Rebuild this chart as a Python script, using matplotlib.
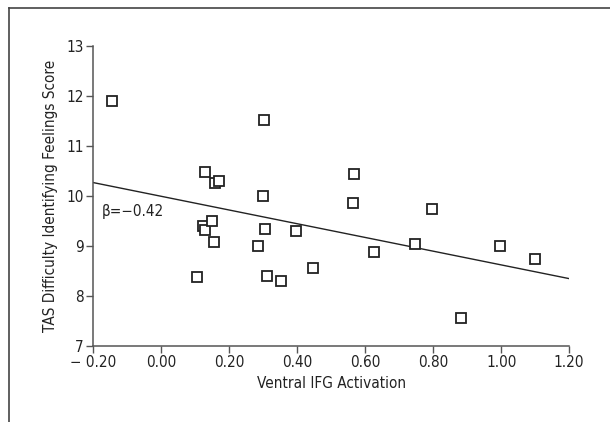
import numpy as np
import matplotlib
matplotlib.use('Agg')
import matplotlib.pyplot as plt
from matplotlib.lines import Line2D
from matplotlib import font_manager

# prefer a narrow sans, like the journal's condensed Helvetica
fonts = {(f.name, f.stretch) for f in font_manager.fontManager.ttflist}
names = {n for n, s in fonts}
font_note = 'plain'
if 'Liberation Sans Narrow' in names:
    plt.rcParams['font.family'] = ['Liberation Sans Narrow', 'DejaVu Sans']
    font_note = 'narrow'
elif ('DejaVu Sans', 'condensed') in fonts or ('DejaVu Sans', 'semi-condensed') in fonts:
    plt.rcParams['font.family'] = ['DejaVu Sans']
    plt.rcParams['font.stretch'] = 'condensed'
    font_note = 'dejavu-cond'
else:
    plt.rcParams['font.family'] = ['DejaVu Sans']

# ventral IFG activation vs TAS difficulty identifying feelings
ifg_activation = [-0.146, 0.302, 0.128, 0.157, 0.170, 0.300, 0.567, 0.563, 0.796,
                  0.123, 0.128, 0.149, 0.156, 0.304, 0.284, 0.395, 0.106, 0.310,
                  0.352, 0.446, 0.625, 0.746, 0.998, 1.100, 0.882]
tas_score = [11.90, 11.52, 10.48, 10.25, 10.29, 10.00, 10.43, 9.86, 9.74,
             9.40, 9.31, 9.49, 9.07, 9.33, 9.00, 9.30, 8.37, 8.40,
             8.29, 8.56, 8.88, 9.04, 9.00, 8.73, 7.55]

fit_x = [-0.20, 1.20]
fit_y = [10.26, 8.34]

x_ticks = [-0.2, 0.0, 0.2, 0.4, 0.6, 0.8, 1.0, 1.2]
x_ticklabels = ['\u2212 0.20', '0.00', '0.20', '0.40', '0.60', '0.80', '1.00', '1.20']
y_ticks = [7, 8, 9, 10, 11, 12, 13]

axis_col = '#555555'
fs = 11 if font_note != 'plain' else 10

fig = plt.figure(figsize=(6.10, 4.22), dpi=100)
ax = fig.add_axes([0.153, 0.181, 0.780, 0.711])

ax.plot(fit_x, fit_y, color='#222222', lw=1.0, zorder=2)
ax.plot(ifg_activation, tas_score, ls='none', marker='s', ms=7.2,
        mfc='white', mec='#222222', mew=1.3, zorder=3)

ax.text(-0.176, 9.68, '\u03b2=\u22120.42', fontsize=fs, color='#222222',
        ha='left', va='center')

ax.set_xlim(-0.2, 1.2)
ax.set_ylim(7, 13)
ax.set_xticks(x_ticks)
ax.set_xticklabels(x_ticklabels)
ax.set_yticks(y_ticks)
for side in ['top', 'right']:
    ax.spines[side].set_visible(False)
for side in ['left', 'bottom']:
    ax.spines[side].set_color(axis_col)
    ax.spines[side].set_linewidth(1.1)
ax.tick_params(direction='out', length=5, width=1.0, color=axis_col,
               labelsize=fs, labelcolor='#222222', pad=2)

ax.set_xlabel('Ventral IFG Activation', fontsize=fs, color='#222222', labelpad=4)
ax.set_ylabel('TAS Difficulty Identifying Feelings Score', fontsize=fs,
              color='#222222', labelpad=6)

# partial frame around the figure panel
fig.add_artist(Line2D([8.5 / 610, 1.0], [1 - 8 / 422, 1 - 8 / 422],
                      transform=fig.transFigure, color='#444444', lw=1.2))
fig.add_artist(Line2D([8.5 / 610, 8.5 / 610], [0.0, 1 - 8 / 422],
                      transform=fig.transFigure, color='#444444', lw=1.2))

fig.savefig('out.png', dpi=100)
